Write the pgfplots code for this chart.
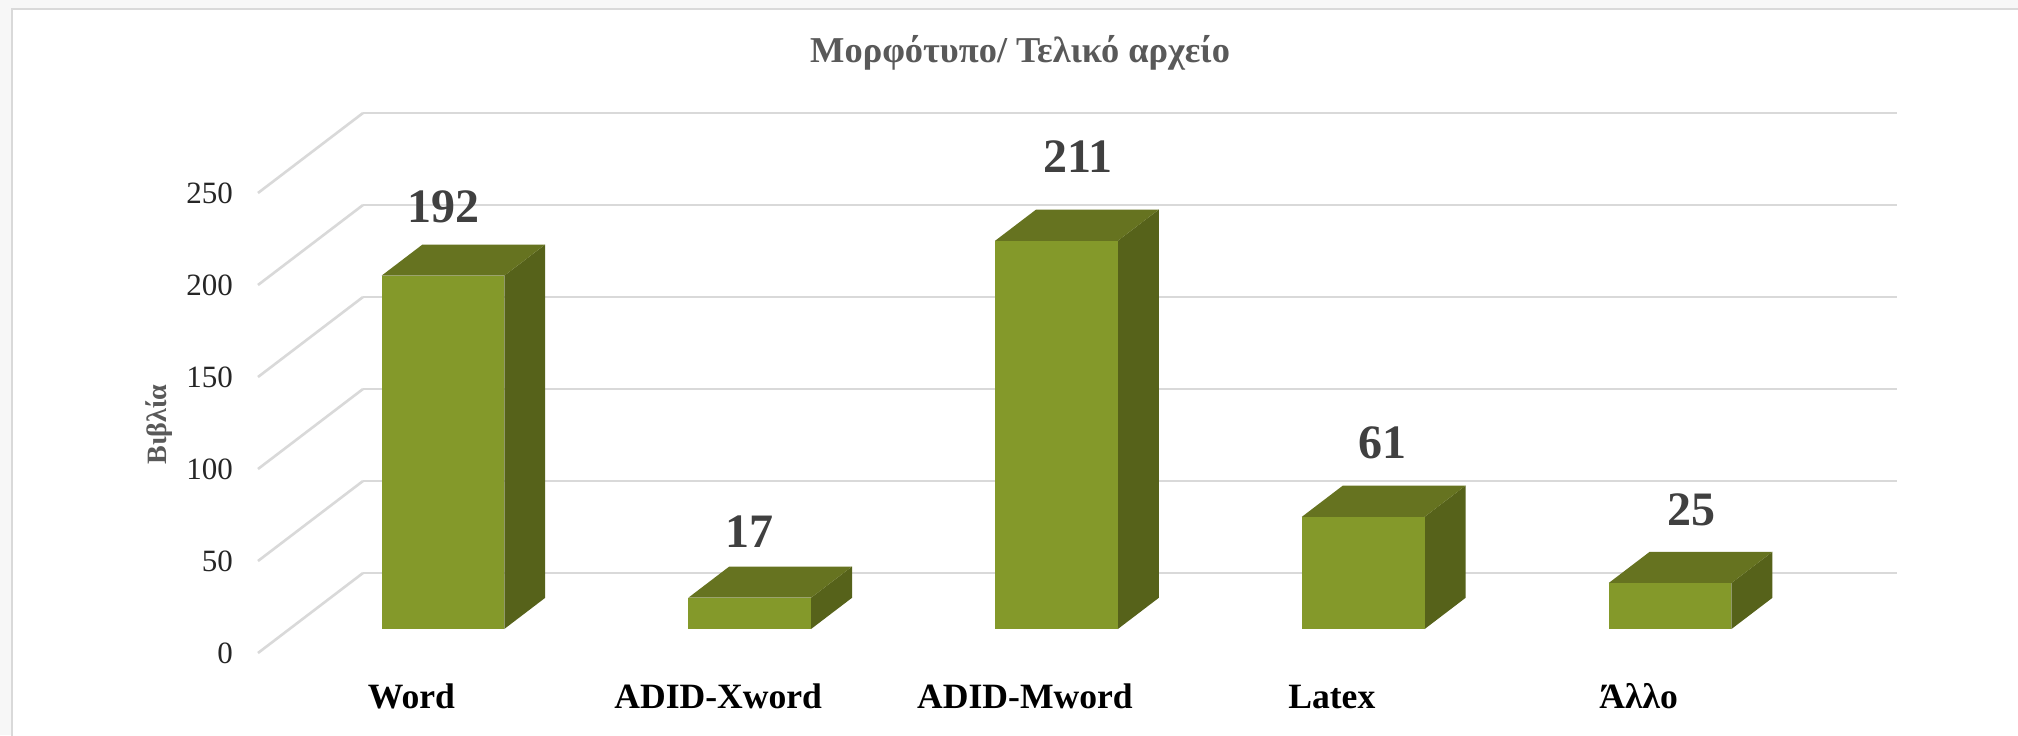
\documentclass[border=0pt]{standalone}
\usepackage{pgfplots}
\pgfplotsset{compat=1.18}
\usepackage{fontspec}
\setmainfont{Liberation Serif}
\definecolor{barfront}{HTML}{84992A}
\definecolor{bartop}{HTML}{667320}
\definecolor{barside}{HTML}{56621A}
\definecolor{gridc}{HTML}{D9D9D9}
\definecolor{labc}{HTML}{404040}
\definecolor{titc}{HTML}{595959}
\begin{document}
\begin{tikzpicture}[x=0.5pt,y=0.5pt]
\path[use as bounding box] (0,0) rectangle (2018,735);
\fill[white] (0,0) rectangle (2018,735);
\fill[black!3] (0,0) rectangle (11,735);
\fill[black!3] (0,727) rectangle (2018,735);
\draw[gridc,line width=1.2pt] (12,-5) -- (12,726) -- (2030,726);
\begin{axis}[
  at={(205.7pt,41pt)},anchor=origin,
  x={(153.4pt,0pt)},y={(52.5pt,40pt)},z={(0pt,0.92pt)},
  xmin=-0.5,xmax=4.5,ymin=0,ymax=1,zmin=0,zmax=250,
  clip=false,
  axis line style={draw=none},
  major tick length=0pt,
  xtick={0,1,2,3,4},
  xticklabels={Word,ADID-Xword,ADID-Mword,Latex,Άλλο},
  ytick=\empty,
  ztick={0,50,100,150,200,250},
  xmajorgrids=false,ymajorgrids=false,zmajorgrids=true,
  major grid style={gridc,line width=1.3pt},
  /pgf/number format/assume math mode=true,
  every x tick label/.append style={anchor=base,yshift=-27.5pt,font=\fontsize{17.8}{20}\selectfont\bfseries,text=black},
  every z tick label/.append style={anchor=east,xshift=-9pt,font=\fontsize{15.5}{18}\selectfont,text=black!85},
  title={Μορφότυπο/ Τελικό αρχείο},
  title style={at={(axis description cs:0.465,1.089)},anchor=center,font=\fontsize{18.2}{20}\selectfont\bfseries,text=titc},
  zlabel={Βιβλία},
  zlabel style={at={(axis description cs:-0.0604,0.423)},anchor=center,rotate=0,font=\fontsize{14}{16}\selectfont\bfseries,text=titc},
]
% Word 192
\addplot3[fill=barside,draw=none] coordinates {(0.2,0.3,0)(0.2,0.69,0)(0.2,0.69,192)(0.2,0.3,192)} -- cycle;
\addplot3[fill=bartop,draw=none] coordinates {(-0.2,0.3,192)(0.2,0.3,192)(0.2,0.69,192)(-0.2,0.69,192)} -- cycle;
\addplot3[fill=barfront,draw=none] coordinates {(-0.2,0.3,0)(0.2,0.3,0)(0.2,0.3,192)(-0.2,0.3,192)} -- cycle;
% ADID-Xword 17
\addplot3[fill=barside,draw=none] coordinates {(1.2,0.3,0)(1.2,0.69,0)(1.2,0.69,17)(1.2,0.3,17)} -- cycle;
\addplot3[fill=bartop,draw=none] coordinates {(0.8,0.3,17)(1.2,0.3,17)(1.2,0.69,17)(0.8,0.69,17)} -- cycle;
\addplot3[fill=barfront,draw=none] coordinates {(0.8,0.3,0)(1.2,0.3,0)(1.2,0.3,17)(0.8,0.3,17)} -- cycle;
% ADID-Mword 211
\addplot3[fill=barside,draw=none] coordinates {(2.2,0.3,0)(2.2,0.69,0)(2.2,0.69,211)(2.2,0.3,211)} -- cycle;
\addplot3[fill=bartop,draw=none] coordinates {(1.8,0.3,211)(2.2,0.3,211)(2.2,0.69,211)(1.8,0.69,211)} -- cycle;
\addplot3[fill=barfront,draw=none] coordinates {(1.8,0.3,0)(2.2,0.3,0)(2.2,0.3,211)(1.8,0.3,211)} -- cycle;
% Latex 61
\addplot3[fill=barside,draw=none] coordinates {(3.2,0.3,0)(3.2,0.69,0)(3.2,0.69,61)(3.2,0.3,61)} -- cycle;
\addplot3[fill=bartop,draw=none] coordinates {(2.8,0.3,61)(3.2,0.3,61)(3.2,0.69,61)(2.8,0.69,61)} -- cycle;
\addplot3[fill=barfront,draw=none] coordinates {(2.8,0.3,0)(3.2,0.3,0)(3.2,0.3,61)(2.8,0.3,61)} -- cycle;
% Allo 25
\addplot3[fill=barside,draw=none] coordinates {(4.2,0.3,0)(4.2,0.69,0)(4.2,0.69,25)(4.2,0.3,25)} -- cycle;
\addplot3[fill=bartop,draw=none] coordinates {(3.8,0.3,25)(4.2,0.3,25)(4.2,0.69,25)(3.8,0.69,25)} -- cycle;
\addplot3[fill=barfront,draw=none] coordinates {(3.8,0.3,0)(4.2,0.3,0)(4.2,0.3,25)(3.8,0.3,25)} -- cycle;
% value labels
\addplot3[draw=none,mark=none,point meta=explicit symbolic,nodes near coords,
  every node near coord/.append style={anchor=center,font=\fontsize{24}{28}\selectfont\bfseries,text=labc}]
 coordinates {(0.003,0.3,229.3)[192] (1.0,0.3,52.7)[17] (2.07,0.3,257)[211] (3.062,0.3,101)[61] (4.07,0.3,64.7)[25]};
\end{axis}
\end{tikzpicture}
\end{document}
